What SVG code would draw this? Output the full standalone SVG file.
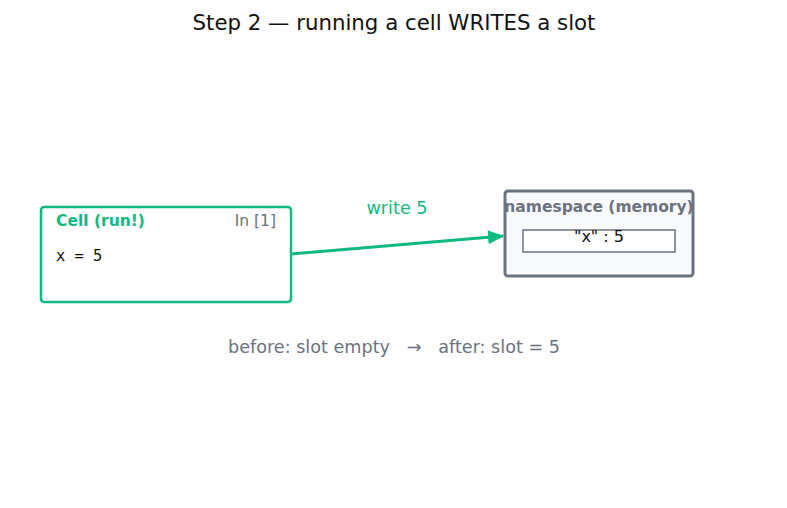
<svg xmlns="http://www.w3.org/2000/svg" width="787" height="508" viewBox="0 0 787 508">
<style>
text { font-family: "DejaVu Sans", sans-serif; }
.title { font-size: 21.3px; fill: #111; text-anchor: middle; }
.green { fill: #10b981; }
.gray { fill: #6b7280; }
.bold { font-weight: bold; font-size: 15.5px; }
.mono { font-family: "DejaVu Sans Mono", monospace; font-size: 15.4px; fill: #111; white-space: pre; }
.note { font-size: 17.6px; fill: #6b7280; text-anchor: middle; white-space: pre; }
</style>
<defs>
<marker id="ah2" viewBox="0 0 16 14" refX="15" refY="7" markerWidth="16" markerHeight="14" orient="auto" markerUnits="userSpaceOnUse">
<path d="M0,0 L16,7 L0,14 z" fill="#10b981"/>
</marker>
</defs>
<rect width="787" height="508" fill="#ffffff"/>
<text class="title" x="394" y="30">Step 2 — running a cell WRITES a slot</text>
<g id="connectors">
<line x1="291" y1="254" x2="503" y2="236" stroke="#10b981" stroke-width="3" marker-end="url(#ah2)"/>
<text class="green" x="397" y="214" font-size="17.6" text-anchor="middle">write 5</text>
</g>
<g id="cell">
<rect x="41" y="207" width="250" height="95" rx="3" fill="#ffffff" stroke="#10b981" stroke-width="2.5"/>
<text class="green bold" x="56" y="226">Cell (run!)</text>
<text class="gray" x="276" y="226" font-size="15.5" text-anchor="end">In [1]</text>
<text class="mono" x="56" y="261">x = 5</text>
</g>
<g id="namespace">
<rect x="505" y="191" width="188" height="85" rx="3" fill="#f8fafc" stroke="#6b7280" stroke-width="3"/>
<text class="gray bold" x="599" y="212" text-anchor="middle">namespace (memory)</text>
<rect x="523" y="230" width="152" height="22" fill="#ffffff" stroke="#6b7280" stroke-width="1.5"/>
<text x="599" y="242" font-size="16" fill="#111" text-anchor="middle">"x" : 5</text>
</g>
<text class="note" x="394" y="353">before: slot empty   →   after: slot = 5</text>
</svg>
